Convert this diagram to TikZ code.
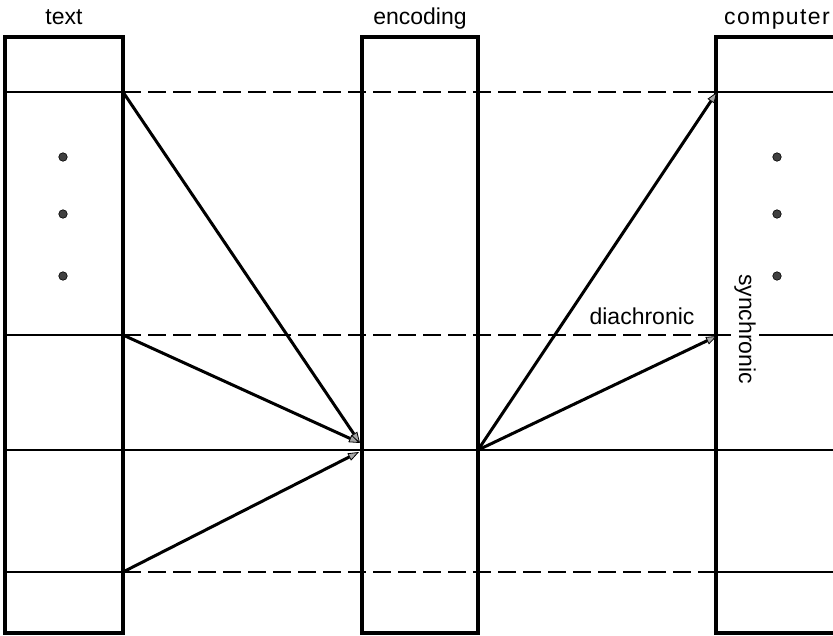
\documentclass[tikz,border=0pt]{standalone}
\usepackage{fontspec}
\setmainfont{Liberation Sans}
\usetikzlibrary{arrows.meta}
\begin{document}
\begin{tikzpicture}[x=1pt,y=-1pt,
  frame/.style={line width=3.6pt},
  row/.style={line width=2pt},
  gaprow/.style={line width=2pt, dash pattern=on 18pt off 7pt},
  link/.style={line width=3pt, -{Triangle[length=11pt,width=8pt,fill=gray!70,line width=0.8pt]}},
  dotmark/.style={circle, fill=black!75, draw=black, line width=0.6pt, inner sep=0pt, minimum size=8.5pt},
  label/.style={font=\fontsize{23}{27}\selectfont, inner sep=1pt}]
\useasboundingbox (0,0) rectangle (833,635);
\clip (0,0) rectangle (833,635);

% column headings
\node[label, anchor=base] (htext) at (64,24) {text};
\node[label, anchor=base] (henc) at (420,24) {encoding};
\node[label, anchor=base, font=\fontsize{23}{27}\selectfont\addfontfeature{LetterSpace=6}] (hcomp) at (777,24) {computer};

% row lines: solid inside the outer columns, dashed across the gap
\foreach \y in {92,335,572} {
  \draw[row] (5,\y) -- (123,\y);
  \draw[gaprow] (123,\y) -- (716,\y);
}
\draw[row] (716,92) -- (840,92);
\draw[row] (716,572) -- (840,572);
\draw[row] (5,450) -- (840,450);

% vertical label breaking the row line in the computer column
\draw[row] (716,335) -- (840,335);
\node[label, rotate=-90, fill=white, inner sep=3pt] (sync) at (745,329) {synchronic};
\node[label, anchor=base] (dia) at (642,324) {diachronic};

% the three columns
\draw[frame] (5,37) rectangle (123,633);
\draw[frame] (362,37) rectangle (478,633);
\draw[frame] (840,37) -- (716,37) -- (716,633) -- (840,633);

% ellipsis dots
\foreach \y/\n in {157/1,214/2,276/3} {
  \node[dotmark] (ld\n) at (63,\y) {};
  \node[dotmark] (rd\n) at (777,\y) {};
}

% connection points
\coordinate (ta) at (123,92);
\coordinate (tb) at (123,335);
\coordinate (tc) at (123,572);
\coordinate (ein) at (360,443);
\coordinate (einb) at (359,452);
\coordinate (eout) at (478,450);
\coordinate (ca) at (717,92);
\coordinate (cb) at (717,336);

% arrows
\draw[link] (ta) -- (ein);
\draw[link] (tb) -- (ein);
\draw[link] (tc) -- (einb);
\draw[link] (eout) -- (ca);
\draw[link] (eout) -- (cb);
\end{tikzpicture}
\end{document}
